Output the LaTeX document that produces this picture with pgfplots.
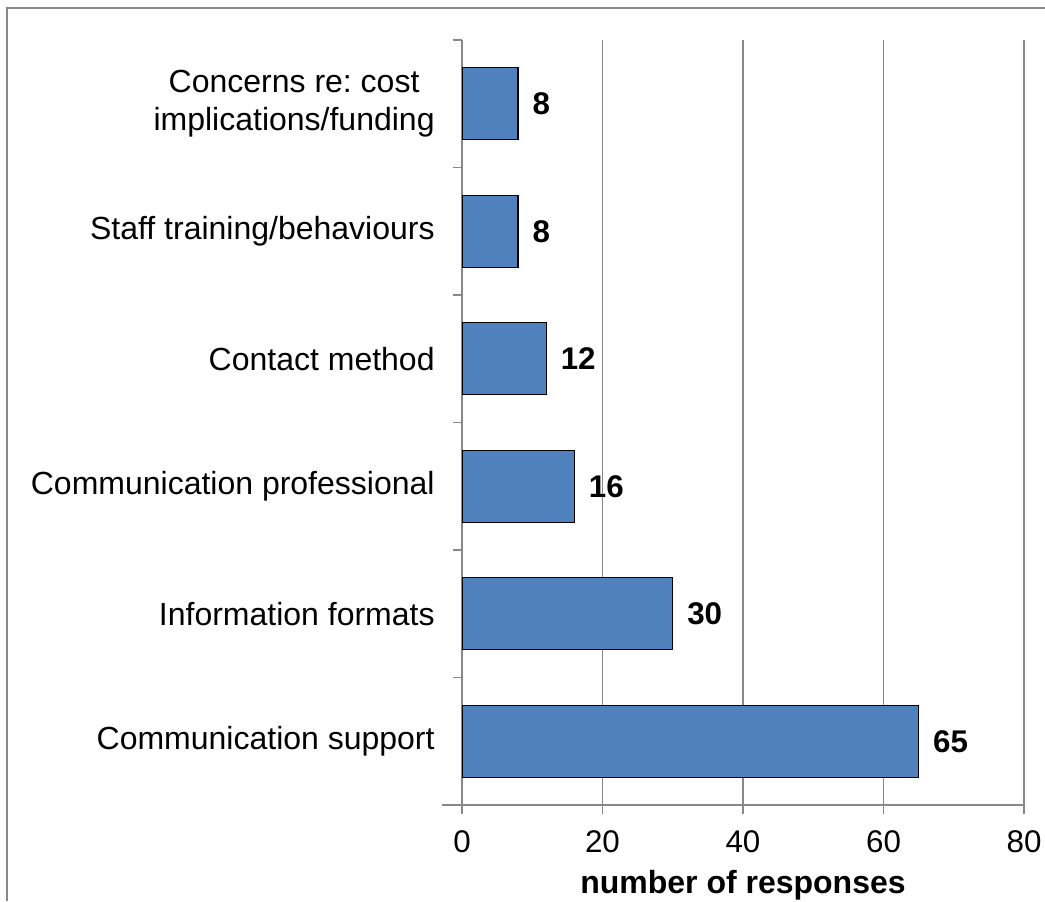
\documentclass[border=0pt]{standalone}
\usepackage{fontspec}
\setmainfont{Liberation Sans}
\usepackage{pgfplots}
\pgfplotsset{compat=1.18}
\definecolor{barblue}{HTML}{4F81BD}
\definecolor{framegray}{HTML}{888888}
\frenchspacing
\begin{document}
\begin{tikzpicture}
% picture = 1045 x 901 px, 1 px = 0.75pt
\path[use as bounding box] (0,0) rectangle (783.75pt,675.75pt);
\draw[framegray, line width=1.5pt] (5.25pt,0pt) -- (5.25pt,669.75pt) -- (783.75pt,669.75pt);
\begin{axis}[
    at={(346.5pt,72pt)}, anchor=south west,
    scale only axis,
    width=421.5pt, height=573.75pt,
    /pgf/number format/assume math mode=true,
    xbar, bar width=54pt,
    xmin=0, xmax=80,
    ymin=0.5, ymax=6.5,
    xtick={0,20,40,60,80},
    ytick={0.5,1.5,...,6.5},
    yticklabels={},
    extra y ticks={1,2,3,4,5,6},
    extra y tick labels={Communication support, Information formats, Communication professional, Contact method, Staff training/behaviours, {Concerns re: cost\\implications/funding}},
    extra y tick style={tick style={draw=none}},
    axis x line*=bottom, axis y line*=left,
    axis line style={draw=framegray, line width=1.2pt, -},
    x axis line style={shorten <=-15pt},
    tick style={draw=framegray, line width=1.2pt},
    tick align=outside,
    major tick length=7pt,
    xmajorgrids, grid style={draw=framegray, line width=1.2pt},
    yticklabel style={font=\fontsize{24}{28.5}\selectfont, align=center, xshift=-10pt},
    xticklabel style={font=\fontsize{23.5}{26}\selectfont, yshift=-8.5pt},
    xlabel={\textbf{number of responses}},
    xlabel style={font=\fontsize{24}{26}\selectfont, at={(axis description cs:0.5,0)}, anchor=base, yshift=-66pt},
    nodes near coords,
    every node near coord/.append style={font=\fontsize{23.5}{26}\selectfont\bfseries, anchor=west, xshift=7pt},
]
\addplot[fill=barblue, draw=black, line width=1.1pt] coordinates {
    (65,1) (30,2) (16,3) (12,4) (8,5) (8,6)
};
\end{axis}
\end{tikzpicture}
\end{document}
